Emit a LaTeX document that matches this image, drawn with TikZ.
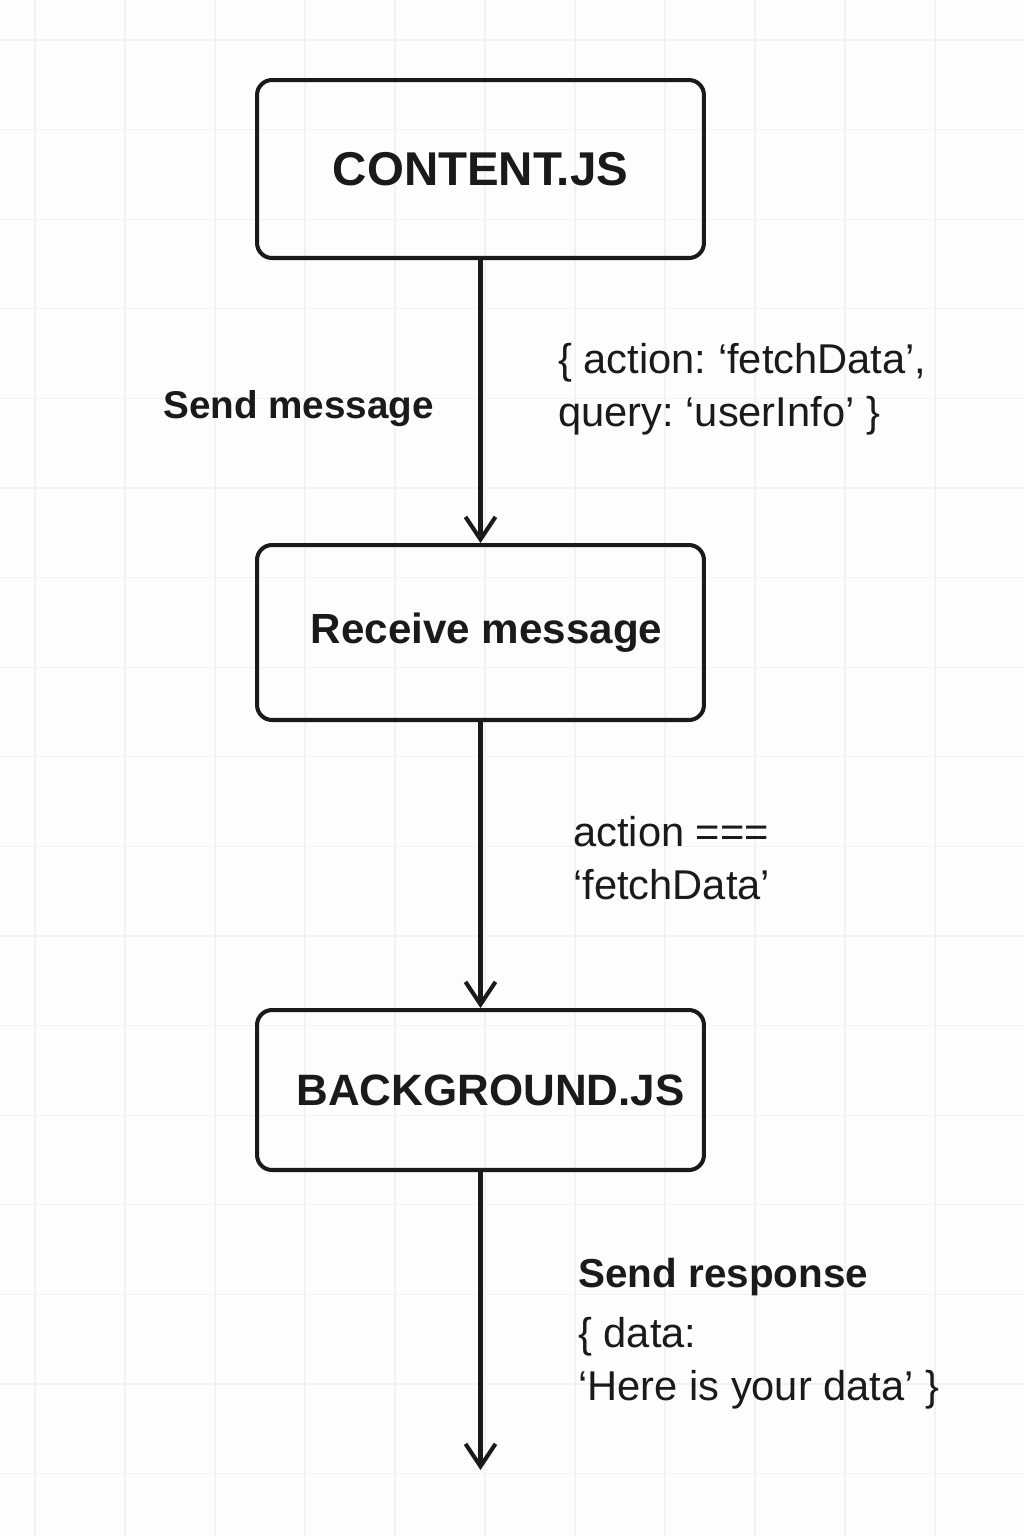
\documentclass[tikz,border=0pt]{standalone}
\usepackage{fontspec}
\setmainfont{Liberation Sans}
\frenchspacing
\usetikzlibrary{arrows.meta}
\definecolor{ink}{HTML}{1A1A1A}
\definecolor{gridgray}{HTML}{F2F2F2}
\definecolor{paper}{HTML}{FDFDFD}
\begin{document}
\begin{tikzpicture}[x=0.02cm, y=-0.02cm,
  block/.style={draw=ink, line width=2.3pt, rounded corners=0.3cm, minimum width=8.94cm,
    inner sep=0pt, text=ink, font=\fontsize{25}{30}\selectfont\bfseries},
  flow/.style={draw=ink, line width=2.3pt, -{Straight Barb[length=0.45cm,width=0.6cm]}},
  note/.style={inner sep=0pt, align=left, text=ink, font=\fontsize{23.7}{30}\selectfont},
  notebold/.style={inner sep=0pt, text=ink, font=\fontsize{23}{29}\selectfont\bfseries}]
	  % page and grid
	  \fill[paper] (0,0) rectangle (1024,1536);
	  \useasboundingbox (0,0) rectangle (1024,1536);
	  \foreach \i in {0,...,10}
	    \draw[gridgray, line width=0.7pt] ({35+90*\i},0) -- ({35+90*\i},1536);
	  \foreach \j in {0,...,16}
	    \draw[gridgray, line width=0.7pt] (0,{40+89.6*\j}) -- (1024,{40+89.6*\j});
	  % boxes
	  \node [block, minimum height=3.56cm, font=\fontsize{27}{30}\selectfont\bfseries] (content) at (480.5,169) {CONTENT.JS};
	  \node [block, minimum height=3.5cm, font=\fontsize{24}{30}\selectfont\bfseries] (receive) at (480.5,632.5) {\hspace*{0.24cm}Receive message};
	  \node [block, minimum height=3.2cm] (background) at (480.5,1090) {\hspace*{0.4cm}BACKGROUND.JS};
	  \coordinate (out) at (480.5,1470);
	  % arrows
	  \draw [flow] (content.south) -- (receive.north);
	  \draw [flow] (receive.south) -- (background.north);
	  \draw [flow] (background.south) -- (out);
	  % labels
	  \node [notebold, anchor=base west, font=\fontsize{22}{28}\selectfont\bfseries] (sendlbl) at (163,418) {Send message};
	  \node [note, anchor=north west] (query) at (558,343) {\{ action: ‘fetchData’,\\query: ‘userInfo’ \}};
	  \node [note, anchor=north west] (check) at (573,816) {action ===\\‘fetchData’};
	  \node [notebold, anchor=base west] (resplbl) at (578,1287) {Send response};
	  \node [note, anchor=north west] (payload) at (578,1317) {\{ data:\\‘Here is your data’ \}};
	 \end{tikzpicture}
\end{document}
